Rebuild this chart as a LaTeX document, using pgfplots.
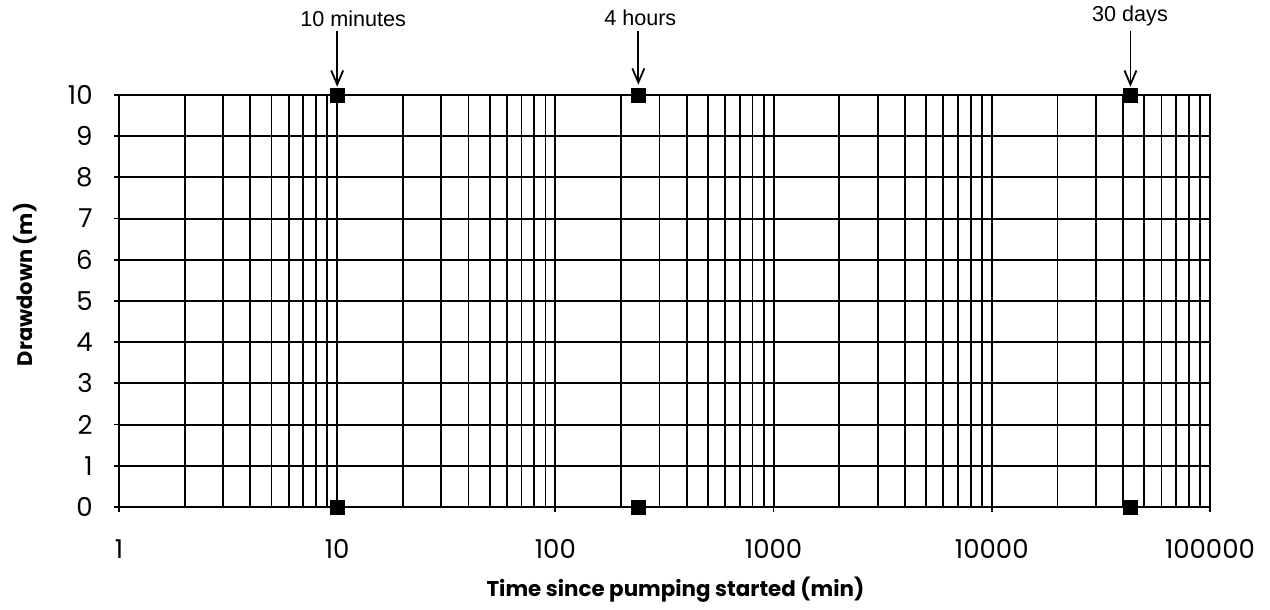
\documentclass[border=0pt]{standalone}
\usepackage{pgfplots}
\pgfplotsset{compat=1.18}
\usetikzlibrary{arrows.meta}
\usepackage{fontspec}
\setmainfont{Poppins}
\newfontfamily\annfont{Liberation Sans}
\begin{document}
\begin{tikzpicture}
\begin{axis}[
  name=ax,
  scale only axis,
  width=545.5pt, height=206pt,
  xmode=log, log basis x=10,
  xmin=1, xmax=100000, ymin=0, ymax=10,
  xtick={1,10,100,1000,10000,100000},
  xticklabels={1,10,100,1000,10000,100000},
  minor xtick={2,3,4,5,6,7,8,9,20,30,40,50,60,70,80,90,200,300,400,500,600,700,800,900,2000,3000,4000,5000,6000,7000,8000,9000,20000,30000,40000,50000,60000,70000,80000,90000},
  ytick={0,1,2,3,4,5,6,7,8,9,10},
  grid=both,
  major grid style={black, line width=1pt},
  minor grid style={black, line width=0.9pt},
  axis line style={black, line width=1pt},
  tick align=outside,
  major tick length=2.5pt,
  minor tick length=0pt,
  xtick pos=bottom, ytick pos=left,
  tick style={black, line width=0.9pt},
  /pgf/number format/assume math mode=true,
  ticklabel style={font=\fontsize{13}{15}\selectfont},
  xticklabel style={anchor=center, yshift=-18.5pt},
  yticklabel style={anchor=east, inner sep=0pt, xshift=-10.5pt},
  xlabel={\textbf{Time since pumping started (min)}},
  ylabel={\textbf{Drawdown (m)}},
  xlabel style={at={(axis description cs:0.51,-0.2015)}, anchor=center, font=\fontsize{10.7}{13}\selectfont},
  ylabel style={at={(axis description cs:-0.0862,0.54)}, anchor=center, font=\fontsize{10.5}{12}\selectfont},
  clip=false,
]
\addplot[only marks, mark=square*, mark size=3.5pt, black] coordinates {
  (10,0) (10,10) (240,0) (240,10) (43200,0) (43200,10)
};
\draw[line width=0.9pt, -{Straight Barb[length=7pt,width=6pt,line width=0.9pt]}] (axis cs:10,11.55) -- (axis cs:10,10.2);
\draw[line width=0.9pt, -{Straight Barb[length=7pt,width=6pt,line width=0.9pt]}] (axis cs:240,11.55) -- (axis cs:240,10.25);
\draw[line width=0.9pt, -{Straight Barb[length=7pt,width=6pt,line width=0.9pt]}] (axis cs:43200,11.55) -- (axis cs:43200,10.2);
\node[font=\annfont\fontsize{10.8}{12}\selectfont, anchor=center, xshift=8pt] at (axis cs:10,11.86) {10 minutes};
\node[font=\annfont\fontsize{10.8}{12}\selectfont, anchor=center] at (axis cs:245,11.88) {4 hours};
\node[font=\annfont\fontsize{10.8}{12}\selectfont, anchor=center] at (axis cs:43000,11.93) {30 days};
\end{axis}
\pgfresetboundingbox
\path (ax.south west) ++(-59.5pt,-51.5pt) rectangle ++(635pt,305pt);
\end{tikzpicture}
\end{document}
